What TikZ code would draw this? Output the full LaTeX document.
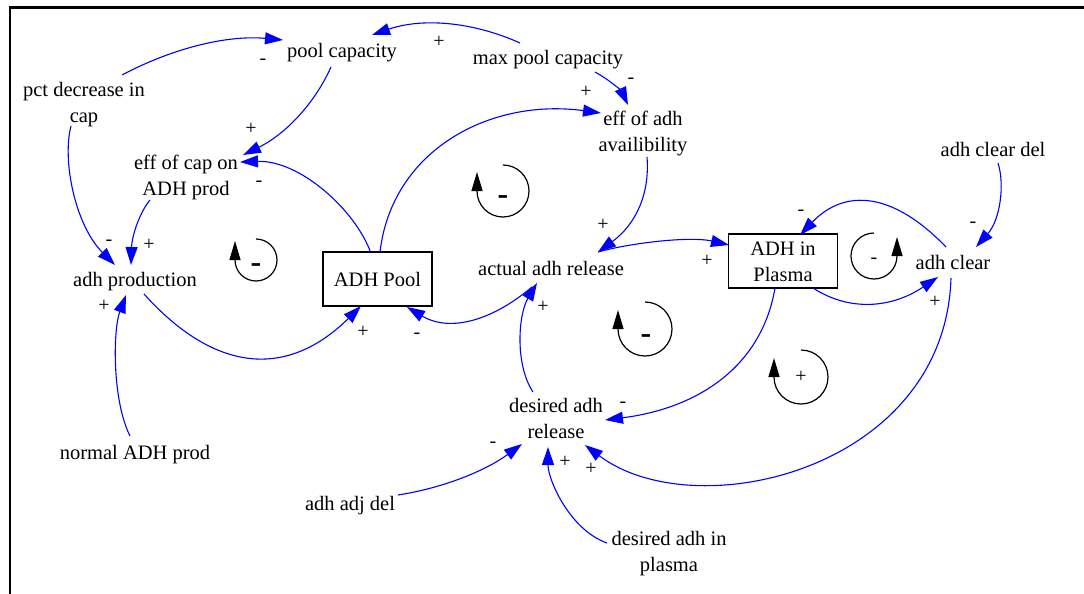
\documentclass[tikz,border=0pt]{standalone}
\usepackage{fontspec}
\setmainfont{Liberation Serif}
\usetikzlibrary{arrows.meta}
\newcommand\vstrut{\rule[-5.8pt]{0pt}{26pt}}
\begin{document}
\begin{tikzpicture}[x=1pt,y=-1pt,
  var/.style={font=\fontsize{20.5}{26}\selectfont, align=center, inner sep=0pt},
  stock/.style={draw, line width=1.3pt, minimum width=109pt, minimum height=54pt,
    font=\fontsize{20.5}{26}\selectfont, align=center, inner sep=0pt},
  link/.style={draw=blue, line width=1.1pt, -{Triangle[length=18pt,width=12pt]}},
  pol/.style={font=\fontsize{20}{20}\selectfont, inner sep=0pt, text height=10pt, text depth=0pt},
  loopline/.style={draw=black, line width=1.2pt, -{Triangle[length=19pt,width=11pt]}},
  loopbold/.style={font=\fontsize{32}{32}\selectfont\bfseries, inner sep=0pt, text height=16pt, text depth=0pt},
]
\useasboundingbox (0,0) rectangle (1084,594);
\draw[line width=2.8pt] (10,594) -- (10,7.5) -- (1084,7.5);

% variables
\node[var] (pct) at (84,102) {pct decrease in\vstrut\\cap\vstrut};
\node[var] (poolcap) at (342,50) {pool capacity\vstrut};
\node[var] (maxpool) at (548,57) {max pool capacity\vstrut};
\node[var] (effcap) at (186,175) {eff of cap on\vstrut\\ADH prod\vstrut};
\node[var] (effadh) at (643,131) {eff of adh\vstrut\\availibility\vstrut};
\node[var] (cleardel) at (993,149) {adh clear del\vstrut};
\node[var] (prod) at (135,279) {adh production\vstrut};
\node[stock] (pool) at (377.5,279) {ADH Pool};
\node[var] (actual) at (551,268) {actual adh release\vstrut};
\node[stock] (plasma) at (783,261) {ADH in\vstrut\\Plasma\vstrut};
\node[var] (clear) at (953,262) {adh clear\vstrut};
\node[var] (desired) at (556,418) {desired adh\vstrut\\release\vstrut};
\node[var] (normal) at (135,452) {normal ADH prod\vstrut};
\node[var] (adjdel) at (350,503) {adh adj del\vstrut};
\node[var] (desinpl) at (669,551) {desired adh in\vstrut\\plasma\vstrut};

% connectors
\draw[link] ([shift={(38,-27)}]pct.center) .. controls (175,47) and (229,35) .. ([shift={(-59,-10)}]poolcap.center);
\draw[link] ([shift={(-28,-14)}]maxpool.center) .. controls (471,21) and (421,18) .. ([shift={(30,-15)}]poolcap.center);
\draw[link] ([shift={(-11,17)}]poolcap.center) .. controls (314,105) and (284,135) .. ([shift={(57,-20)}]effcap.center);
\draw[link] ([shift={(-7,-27)}]pool.center) .. controls (355,210) and (300,160) .. ([shift={(54,-13)}]effcap.center);
\draw[link] ([shift={(-13,24)}]pct.center) .. controls (62,160) and (75,225) .. ([shift={(-20,-14)}]prod.center);
\draw[link] ([shift={(-36,25)}]effcap.center) .. controls (140,212) and (132,235) .. ([shift={(-4,-14)}]prod.center);
\draw[link] ([shift={(-5,-16)}]normal.center) .. controls (112,400) and (113,330) .. ([shift={(-9,16)}]prod.center);
\draw[link] ([shift={(9,15)}]prod.center) .. controls (216,374) and (288,378) .. ([shift={(-16.5,27)}]pool.center);
\draw[link] ([shift={(2.5,-27)}]pool.center) .. controls (392,150) and (490,98) .. ([shift={(-42,-18)}]effadh.center);
\draw[link] ([shift={(47,15)}]maxpool.center) .. controls (610,80) and (622,92) .. ([shift={(-15,-26)}]effadh.center);
\draw[link] ([shift={(4,26)}]effadh.center) .. controls (650,195) and (635,225) .. ([shift={(47,-16)}]actual.center);
\draw[link] ([shift={(-19,19)}]actual.center) .. controls (488,324) and (447,331) .. ([shift={(29.5,28)}]pool.center);
\draw[link] ([shift={(47,-16)}]actual.center) .. controls (630,243) and (690,236) .. ([shift={(-54,-16)}]plasma.center);
\draw[link] ([shift={(30,27)}]plasma.center) .. controls (850,312) and (892,308) .. ([shift={(-15,15)}]clear.center);
\draw[link] ([shift={(-7,-15)}]clear.center) .. controls (893,192) and (845,188) .. ([shift={(17,-26)}]plasma.center);
\draw[link] ([shift={(5,14)}]cleardel.center) .. controls (1005,185) and (1000,220) .. ([shift={(23,-15)}]clear.center);
\draw[link] ([shift={(-8,27)}]plasma.center) .. controls (762,365) and (700,408) .. ([shift={(49,2)}]desired.center);
\draw[link] ([shift={(-2,16)}]clear.center) .. controls (945,470) and (695,528) .. ([shift={(29,27)}]desired.center);
\draw[link] ([shift={(48,-8)}]adjdel.center) .. controls (443,488) and (485,471) .. ([shift={(-34,26)}]desired.center);
\draw[link] ([shift={(-62,-8)}]desinpl.center) .. controls (570,530) and (548,480) .. ([shift={(-8,29)}]desired.center);
\draw[link] ([shift={(-23,-26)}]desired.center) .. controls (515,365) and (518,315) .. ([shift={(-14,15)}]actual.center);

% polarity labels
\node[pol] (p1) at (263,59) {-};
\node[pol] (p2) at (439,43) {+};
\node[pol] (p3) at (251,129) {+};
\node[pol] (p4) at (259,181) {-};
\node[pol] (p5) at (109,240) {-};
\node[pol] (p6) at (149,245) {+};
\node[pol] (p7) at (104,306) {+};
\node[pol] (p8) at (363,332) {+};
\node[pol] (p9) at (417,333) {-};
\node[pol] (p10) at (586,92) {+};
\node[pol] (p11) at (631,79) {-};
\node[pol] (p12) at (603,225) {+};
\node[pol] (p13) at (707,261) {+};
\node[pol] (p14) at (543,307) {+};
\node[pol] (p15) at (623,402) {-};
\node[pol] (p16) at (801,210) {-};
\node[pol] (p17) at (973,222) {-};
\node[pol] (p18) at (935,302) {+};
\node[pol] (p19) at (493,442) {-};
\node[pol] (p20) at (565,462) {+};
\node[pol] (p21) at (591,469) {+};

% loop markers
\draw[loopline] (256,239) arc[start angle=-90, end angle=180, radius=21] -- ++(0,-19);
\node[loopbold] (l1) at (256,264) {-};
\draw[loopline] (503,165) arc[start angle=-90, end angle=180, radius=26] -- ++(0,-19);
\node[loopbold] (l2) at (503,196) {-};
\draw[loopline] (645,302) arc[start angle=-90, end angle=180, radius=27] -- ++(0,-19);
\node[loopbold] (l3) at (646,335) {-};
\draw[loopline] (874,233) arc[start angle=-90, end angle=-360, radius=23] -- ++(0,-19);
\node[pol] (l4) at (874,258) {-};
\draw[loopline] (801,350) arc[start angle=-90, end angle=180, radius=27] -- ++(0,-19);
\node[pol] (l5) at (801,377) {+};
\end{tikzpicture}
\end{document}
